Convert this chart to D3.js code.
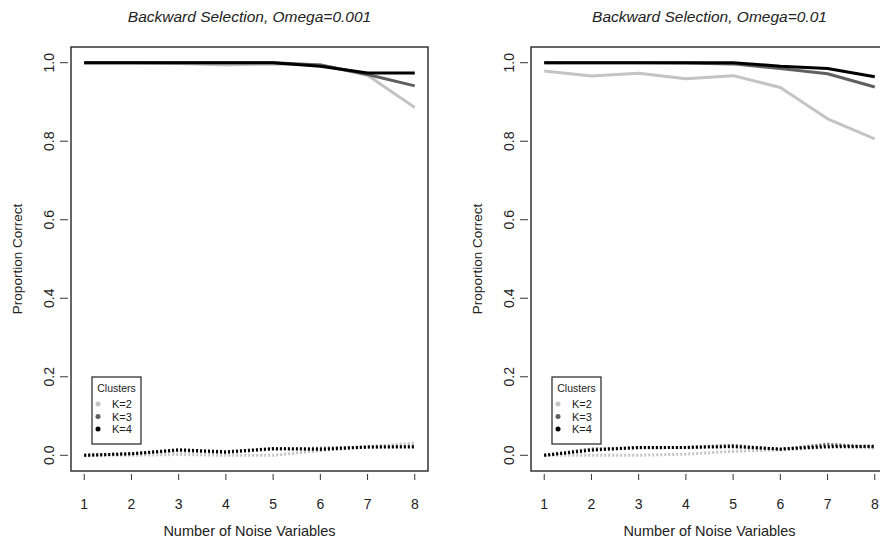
<!DOCTYPE html>
<html>
<head>
<meta charset="utf-8">
<script src="https://cdn.jsdelivr.net/npm/d3@7"></script>
<style>
  body { margin: 0; background: #fff; }
  svg { display: block; font-family: "Liberation Sans", Arial, sans-serif; }
</style>
</head>
<body>
<div id="chart"></div>
<script>
// values
const noiseVars = [1, 2, 3, 4, 5, 6, 7, 8];
const clusterLabels = ["K=2", "K=3", "K=4"];
const clusterColors = ["#c4c4c4", "#606060", "#000000"];
const yTicks = [0, 0.2, 0.4, 0.6, 0.8, 1.0];
const panelTitles = ["Backward Selection, Omega=0.001", "Backward Selection, Omega=0.01"];

// Omega = 0.001, solid lines
const w001_k2 = [1.0, 1.0, 0.998, 0.994, 0.997, 0.995, 0.968, 0.886];
const w001_k3 = [1.0, 1.0, 1.0, 1.0, 1.0, 0.994, 0.970, 0.941];
const w001_k4 = [1.0, 1.0, 1.0, 1.0, 1.0, 0.991, 0.974, 0.974];
// Omega = 0.001, dotted lines
const w001_k2_low = [0.0, 0.0, 0.002, 0.0, 0.0, 0.012, 0.022, 0.031];
const w001_k3_low = [0.0, 0.004, 0.012, 0.007, 0.016, 0.018, 0.021, 0.023];
const w001_k4_low = [0.0, 0.004, 0.014, 0.009, 0.017, 0.015, 0.021, 0.021];

// Omega = 0.01, solid lines
const w01_k2 = [0.979, 0.966, 0.973, 0.959, 0.967, 0.937, 0.857, 0.806];
const w01_k3 = [1.0, 1.0, 1.0, 0.999, 0.997, 0.985, 0.972, 0.938];
const w01_k4 = [1.0, 1.0, 1.0, 1.0, 1.0, 0.991, 0.985, 0.964];
// Omega = 0.01, dotted lines
const w01_k2_low = [0.0, 0.0, 0.0, 0.003, 0.010, 0.014, 0.020, 0.019];
const w01_k3_low = [0.0, 0.016, 0.019, 0.020, 0.025, 0.015, 0.028, 0.021];
const w01_k4_low = [0.0, 0.013, 0.020, 0.020, 0.022, 0.016, 0.022, 0.023];

const panels = [
  { title: panelTitles[0], left: 71, high: [w001_k2, w001_k3, w001_k4], low: [w001_k2_low, w001_k3_low, w001_k4_low] },
  { title: panelTitles[1], left: 531, high: [w01_k2, w01_k3, w01_k4], low: [w01_k2_low, w01_k3_low, w01_k4_low] }
];

const width = 880, height = 546;
const boxW = 357, boxTop = 47, boxBottom = 471;

const svg = d3.select("#chart")
  .append("svg")
  .attr("width", width)
  .attr("height", height);

panels.forEach(p => {
  const xScale = d3.scaleLinear()
    .domain([0.72, 8.28])
    .range([p.left, p.left + boxW]);

  const yScale = d3.scaleLinear()
    .domain([-0.04, 1.04])
    .range([boxBottom, boxTop]);

  const g = svg.append("g");

  // title
  g.append("text")
    .attr("x", p.left + boxW / 2)
    .attr("y", 22)
    .attr("text-anchor", "middle")
    .attr("font-style", "italic")
    .attr("font-size", "15.5px")
    .attr("fill", "#222")
    .text(p.title);

  // lines
  const line = d3.line()
    .x((d, i) => xScale(noiseVars[i]))
    .y(d => yScale(d));

  p.high.forEach((vals, k) => {
    g.append("path")
      .datum(vals)
      .attr("d", line)
      .attr("fill", "none")
      .attr("stroke", clusterColors[k])
      .attr("stroke-width", 3)
      .attr("stroke-linejoin", "round");
  });

  p.low.forEach((vals, k) => {
    g.append("path")
      .datum(vals)
      .attr("d", line)
      .attr("fill", "none")
      .attr("stroke", clusterColors[k])
      .attr("stroke-width", 3)
      .attr("stroke-dasharray", "2,2");
  });

  // box
  g.append("rect")
    .attr("x", p.left)
    .attr("y", boxTop)
    .attr("width", boxW)
    .attr("height", boxBottom - boxTop)
    .attr("fill", "none")
    .attr("stroke", "#333")
    .attr("stroke-width", 1.5);

  // x ticks
  const xAxis = g.append("g");
  xAxis.selectAll("line")
    .data(noiseVars)
    .enter()
    .append("line")
    .attr("x1", d => xScale(d))
    .attr("x2", d => xScale(d))
    .attr("y1", boxBottom + 3)
    .attr("y2", boxBottom + 9)
    .attr("stroke", "#333");
  xAxis.selectAll("text")
    .data(noiseVars)
    .enter()
    .append("text")
    .attr("x", d => xScale(d))
    .attr("y", 509)
    .attr("text-anchor", "middle")
    .attr("font-size", "14px")
    .attr("fill", "#222")
    .text(d => d);

  // y ticks
  const yAxis = g.append("g");
  yAxis.selectAll("line")
    .data(yTicks)
    .enter()
    .append("line")
    .attr("x1", p.left - 11)
    .attr("x2", p.left - 3)
    .attr("y1", d => yScale(d))
    .attr("y2", d => yScale(d))
    .attr("stroke", "#333");
  yAxis.selectAll("text")
    .data(yTicks)
    .enter()
    .append("text")
    .attr("transform", d => `translate(${p.left - 17},${yScale(d)}) rotate(-90)`)
    .attr("text-anchor", "middle")
    .attr("font-size", "14px")
    .attr("fill", "#222")
    .text(d => d3.format(".1f")(d));

  // axis titles
  g.append("text")
    .attr("x", p.left + boxW / 2)
    .attr("y", 536)
    .attr("text-anchor", "middle")
    .attr("font-size", "14.5px")
    .attr("fill", "#222")
    .text("Number of Noise Variables");

  g.append("text")
    .attr("transform", `translate(${p.left - 49},${(boxTop + boxBottom) / 2}) rotate(-90)`)
    .attr("text-anchor", "middle")
    .attr("font-size", "13.5px")
    .attr("fill", "#222")
    .text("Proportion Correct");

  // legend
  const lx = p.left + 21, ly = 377;
  const legend = g.append("g");
  legend.append("rect")
    .attr("x", lx)
    .attr("y", ly)
    .attr("width", 49)
    .attr("height", 67)
    .attr("fill", "#fff")
    .attr("stroke", "#222")
    .attr("stroke-width", 1.2);
  legend.append("text")
    .attr("x", lx + 24.5)
    .attr("y", ly + 15)
    .attr("text-anchor", "middle")
    .attr("font-size", "10.5px")
    .attr("fill", "#222")
    .text("Clusters");
  clusterLabels.forEach((lab, k) => {
    const cy = ly + 27 + k * 12.5;
    legend.append("circle")
      .attr("cx", lx + 6)
      .attr("cy", cy)
      .attr("r", 2.5)
      .attr("fill", clusterColors[k]);
    legend.append("text")
      .attr("x", lx + 20)
      .attr("y", cy + 4)
      .attr("font-size", "11px")
      .attr("fill", "#222")
      .text(lab);
  });
});
</script>
</body>
</html>
